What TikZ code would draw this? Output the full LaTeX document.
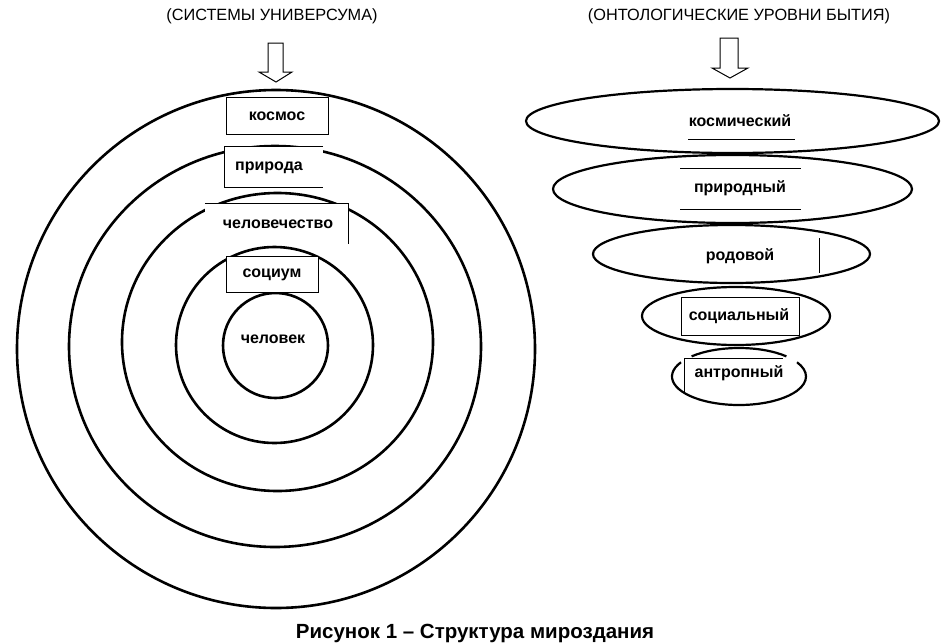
\documentclass[tikz,border=0pt]{standalone}
\usepackage{fontspec}
\setmainfont{Liberation Sans}
\usetikzlibrary{shapes.geometric}
\begin{document}
\begin{tikzpicture}[x=1pt,y=-1pt,
  ring/.style={draw, ellipse, line width=2.6pt, inner sep=0pt},
  lvl/.style={draw, ellipse, line width=2.2pt, inner sep=0pt},
  lbl/.style={font=\fontsize{16}{18}\selectfont\bfseries, inner sep=0pt},
  ttl/.style={font=\fontsize{16.3}{19}\selectfont, inner sep=0pt},
  captext/.style={font=\fontsize{20.5}{23}\selectfont\bfseries, inner sep=0pt},
  boxfill/.style={fill=white, inner sep=0pt},
  frame/.style={line width=0.9pt},
  blockarrow/.style={draw, line width=1pt, fill=white, line join=miter}]
\useasboundingbox (0,0) rectangle (945,643);
\fill[white] (0,0) rectangle (945,643);

% titles
\node[ttl] (t1) at (272,16) {(СИСТЕМЫ УНИВЕРСУМА)};
\node[ttl] (t2) at (739,16) {(ОНТОЛОГИЧЕСКИЕ УРОВНИ БЫТИЯ)};

% block arrows
\draw[blockarrow] (268,43) -- (283,43) -- (283,72) -- (292,72) -- (276,82) -- (259,72) -- (268,72) -- cycle;
\draw[blockarrow] (720,38) -- (738,38) -- (738,68) -- (748,68) -- (730,78) -- (712,68) -- (720,68) -- cycle;

% concentric circles
\node[ring, minimum width=518, minimum height=518] (c1) at (276,349) {};
\node[ring, minimum width=412, minimum height=401] (c2) at (275,346.5) {};
\node[ring, minimum width=311, minimum height=298] (c3) at (277.5,342) {};
\node[ring, minimum width=197, minimum height=196] (c4) at (274.5,345) {};
\node[ring, minimum width=105, minimum height=105] (c5) at (275.5,345.5) {};

% boxes of the circles
\node[boxfill, draw, line width=0.9pt, minimum width=102, minimum height=37] (bkosmos) at (277,115.5) {};
\node[lbl] (kosmos) at (277,116) {космос};

\node[boxfill, minimum width=98, minimum height=40] (bpriroda) at (274,167) {};
\draw[frame] (bpriroda.north east) -- (bpriroda.north west) -- (bpriroda.south west) -- (bpriroda.south east);
\node[lbl] (priroda) at (269,168) {природа};

\node[boxfill, minimum width=143, minimum height=38] (bchel) at (276.5,223) {};
\draw[frame] (bchel.north west) -- (bchel.north east) -- ([yshift=-2pt]bchel.south east);
\node[lbl] (chelovechestvo) at (278,224) {человечество};

\node[boxfill, draw, line width=0.9pt, minimum width=92, minimum height=36] (bsocium) at (272,274) {};
\node[lbl] (socium) at (272,275) {социум};

\node[lbl] (chelovek) at (273,339) {человек};

% ontological levels
\node[lvl, minimum width=413, minimum height=64] (e1) at (732.5,121) {};
\node[lvl, minimum width=359, minimum height=68] (e2) at (732.5,189) {};
\node[lvl, minimum width=277, minimum height=58] (e3) at (731.5,254) {};
\node[lvl, minimum width=188, minimum height=58] (e4) at (736,316) {};
\coordinate (e5) at (739,376.5);
\draw[line width=2.2pt] ([shift={(-45:67 and 28.5)}]e5) arc[start angle=-45, end angle=-135, x radius=67, y radius=28.5];
\draw[line width=2.2pt] ([shift={(-150:67 and 28.5)}]e5) arc[start angle=-150, end angle=-390, x radius=67, y radius=28.5];

\node[lbl] (kosm) at (740,121) {космический};
\draw[frame] (688,139) -- (795,139);
\draw[frame] (680,168) -- (801,168);
\node[lbl] (prir) at (740,188) {природный};
\draw[frame] (680,209) -- (801,209);
\node[lbl] (rod) at (740,256) {родовой};
\draw[frame] (819,238) -- (819,273);
\node[boxfill, draw, line width=0.9pt, minimum width=118, minimum height=38] (bsoc) at (740,316) {};
\node[lbl] (soc) at (739,316) {социальный};
\draw[frame] (684,393) -- (684,358) -- (783,358);
\node[lbl] (antr) at (739,373) {антропный};

% caption
\node[captext] (caption) at (475,633) {Рисунок 1 – Структура мироздания};
\end{tikzpicture}
\end{document}
